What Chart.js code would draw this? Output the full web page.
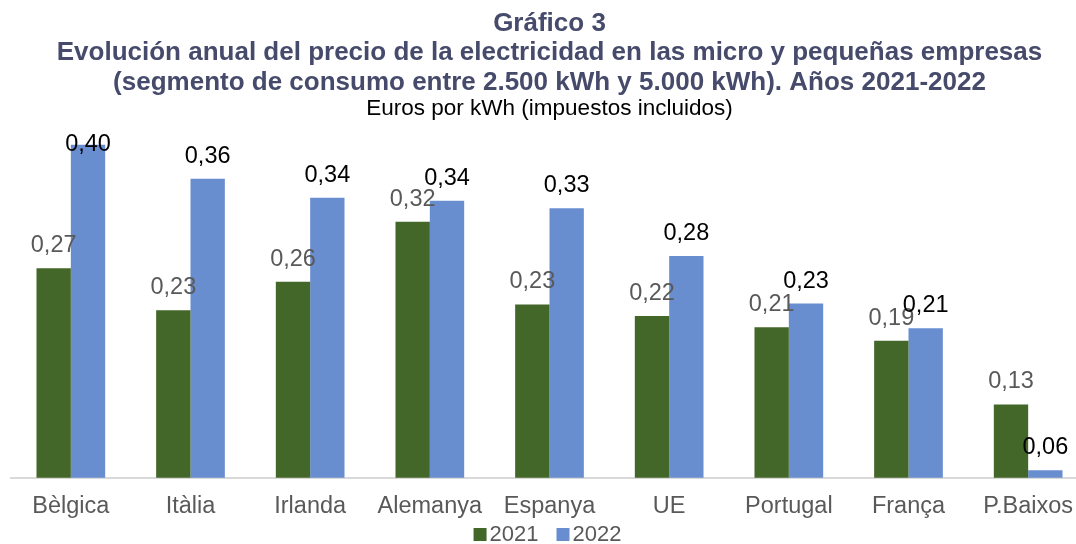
<!DOCTYPE html>
<html>
<head>
<meta charset="utf-8">
<script src="https://cdn.jsdelivr.net/npm/chart.js@4.4.1/dist/chart.umd.min.js"></script>
<style>
  html, body { margin: 0; padding: 0; background: #fff; overflow: hidden; }
  #wrap { position: absolute; left: 0; top: 0; width: 1100px; height: 544px; }
</style>
</head>
<body>
<div id="wrap"><canvas id="grafico" width="1100" height="544"></canvas></div>
<script>
// dades llegides del gràfic
const paises = ['Bèlgica', 'Itàlia', 'Irlanda', 'Alemanya', 'Espanya', 'UE', 'Portugal', 'França', 'P.Baixos'];
const anys = ['2021', '2022'];
const preus2021 = [0.270, 0.226, 0.256, 0.319, 0.232, 0.220, 0.208, 0.194, 0.127];
const preus2022 = [0.400, 0.364, 0.344, 0.341, 0.333, 0.283, 0.233, 0.207, 0.058];

const titol = [
    'Gráfico 3',
    'Evolución anual del precio de la electricidad en las micro y pequeñas empresas',
    '(segmento de consumo entre 2.500 kWh y 5.000 kWh). Años 2021-2022'
];
const subtitol = 'Euros por kWh (impuestos incluidos)';

const verd = '#436629';
const blau = '#698ed0';
const gris = '#595959';
const colorTitol = '#464a6b';
const lletra = "'Liberation Sans', Arial, sans-serif";

function formatPreu(v) {
    return v.toFixed(2).replace('.', ',');
}

// etiquetes de valor damunt de cada barra
const etiquetes = {
    id: 'etiquetes',
    afterDatasetsDraw(chart) {
        const ctx = chart.ctx;
        const dalt = chart.chartArea.top + 6;
        ctx.save();
        ctx.font = '23.5px ' + lletra;
        ctx.textAlign = 'center';
        ctx.textBaseline = 'alphabetic';
        chart.data.datasets.forEach((ds, i) => {
            ctx.fillStyle = i === 0 ? gris : '#000000';
            chart.getDatasetMeta(i).data.forEach((bar, j) => {
                ctx.fillText(formatPreu(ds.data[j]), bar.x, Math.max(bar.y - 16, dalt));
            });
        });
        ctx.restore();
    }
};

// llegenda a sota, caixa petita enganxada al text
const llegenda = {
    id: 'llegenda',
    afterDraw(chart) {
        const ctx = chart.ctx;
        const caixa = 13, espai = 3, sep = 18;
        ctx.save();
        ctx.font = '22px ' + lletra;
        ctx.textBaseline = 'alphabetic';
        ctx.textAlign = 'left';
        const items = chart.data.datasets.map(ds => ({
            text: ds.label,
            color: ds.backgroundColor,
            w: ctx.measureText(ds.label).width
        }));
        const total = items.reduce((s, it) => s + caixa + espai + it.w, 0) + sep * (items.length - 1);
        let x = (chart.chartArea.left + chart.chartArea.right) / 2 - total / 2 - 2;
        const base = chart.height - 3;
        items.forEach(it => {
            ctx.fillStyle = it.color;
            ctx.fillRect(x, base - caixa, caixa, caixa);
            x += caixa + espai;
            ctx.fillStyle = gris;
            ctx.fillText(it.text, x, base);
            x += it.w + sep;
        });
        ctx.restore();
    }
};

const config = {
    type: 'bar',
    data: {
        labels: paises,
        datasets: [
            {
                label: anys[0],
                data: preus2021,
                backgroundColor: verd,
                categoryPercentage: 0.574,
                barPercentage: 1.0
            },
            {
                label: anys[1],
                data: preus2022,
                backgroundColor: blau,
                categoryPercentage: 0.574,
                barPercentage: 1.0
            }
        ]
    },
    options: {
        responsive: false,
        devicePixelRatio: 1,
        animation: false,
        layout: {
            padding: { left: 11, right: 12, top: 0, bottom: 16 }
        },
        scales: {
            x: {
                grid: { display: false },
                border: { display: true, color: '#d9d9d9', width: 2 },
                ticks: {
                    color: gris,
                    padding: 7,
                    maxRotation: 0,
                    autoSkip: false,
                    font: { family: lletra, size: 23.5 }
                }
            },
            y: {
                display: false,
                min: 0.05,
                max: 0.40
            }
        },
        plugins: {
            legend: { display: false },
            tooltip: { enabled: false },
            title: {
                display: true,
                text: titol,
                color: colorTitol,
                font: { family: lletra, size: 26, weight: 'bold', lineHeight: 1.135 },
                padding: { top: 9, bottom: 2 }
            },
            subtitle: {
                display: true,
                text: subtitol,
                color: '#000000',
                font: { family: lletra, size: 22.5, lineHeight: 0.8 },
                padding: { top: 0, bottom: 27 }
            }
        }
    },
    plugins: [etiquetes, llegenda]
};

const myChart = new Chart(document.getElementById('grafico'), config);
</script>
</body>
</html>
